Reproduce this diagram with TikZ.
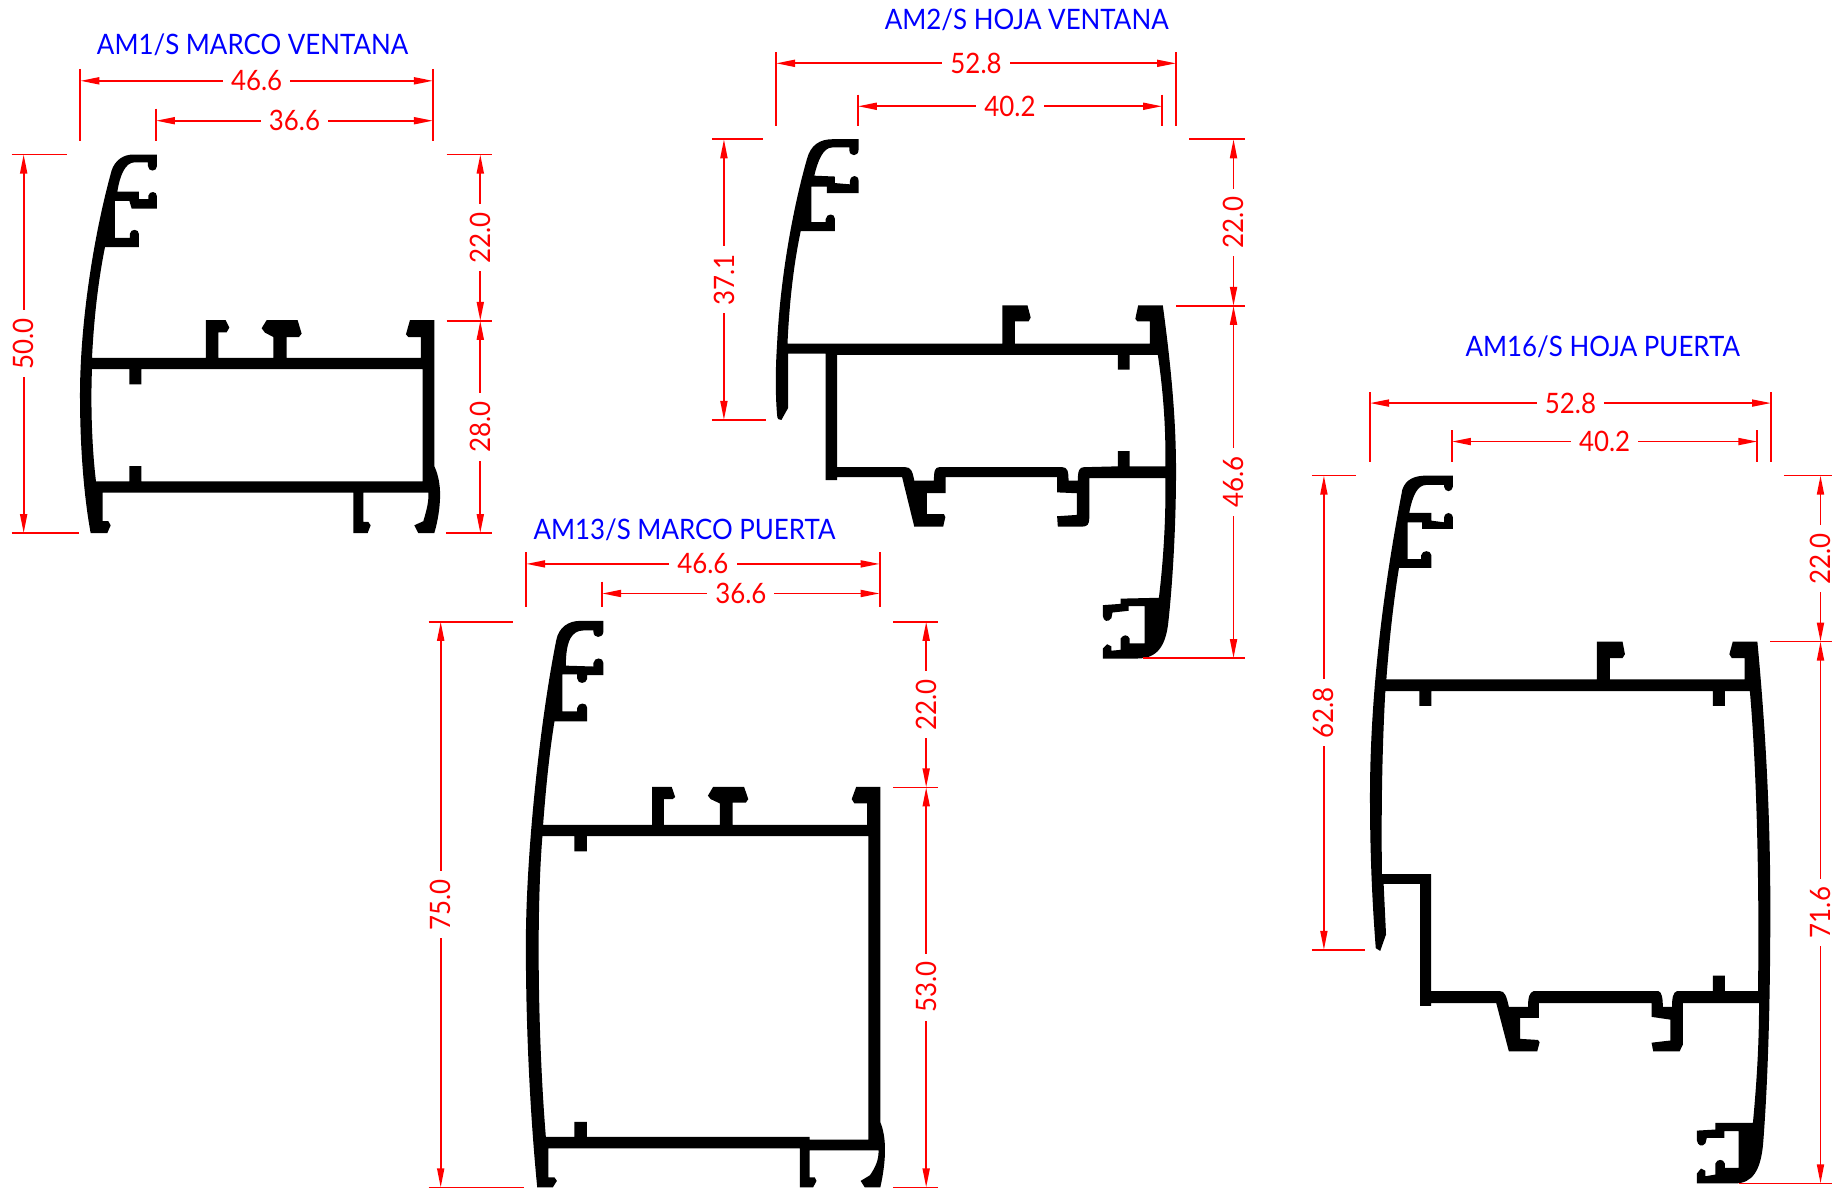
\documentclass[tikz,border=0pt]{standalone}
\usepackage{fontspec}
\setmainfont[FakeStretch=.92]{Lato}
\usetikzlibrary{arrows.meta}

\tikzset{
profile/.style={fill=black, even odd rule},
extline/.style={red, line width=.5pt},
dimline/.style={red, line width=.5pt, {Triangle[length=.19cm,width=.07cm]}-{Triangle[length=.19cm,width=.07cm]}},
dimh/.style={fill=white, text=red, inner xsep=.08cm, inner ysep=0pt, font=\fontsize{8}{9}\selectfont},
dimv/.style={dimh, rotate=90},
title/.style={text=blue, font=\fontsize{8}{9}\selectfont}
}

\begin{document}
\begin{tikzpicture}[x=.01cm, y=-.01cm]

\useasboundingbox (0,0) rectangle (1834,1192);

% AM1/S
\begin{scope}[shift={(0,20)}, xscale=.3333, yscale=.338]
\fill[profile] (471,398)--(471,432) .. controls (471,450) and (444,450) .. (444,432)--(444,421)--(405,421)
 .. controls (375,421) and (360,460) .. (352,508)--(417,508)--(417,530)--(445,530)--(445,520)
 .. controls (448,505) and (471,505) .. (471,522)--(471,558)--(395,558)--(388,535)--(345,535)--(345,645)--(390,645)--(390,632)
 .. controls (392,617) and (417,617) .. (417,634)--(417,672)--(315,672)
 .. controls (295,770) and (282,880) .. (276,1000)--(618,1000)--(618,888)--(677,888)--(688,910)--(680,924)--(655,924)--(655,1000)
 --(820,1000)--(820,938)--(795,925)--(785,912)--(800,888)--(893,888)--(905,928)--(897,938)--(860,938)--(860,1000)
 --(1263,1000)--(1263,938)--(1225,938)--(1218,930)--(1230,888)--(1303,888)--(1303,1320)
 .. controls (1318,1350) and (1322,1390) .. (1320,1420) .. controls (1318,1460) and (1310,1495) .. (1303,1518)
 --(1255,1518)--(1243,1495)--(1270,1483) .. controls (1280,1450) and (1287,1425) .. (1285,1398)
 --(1090,1398)--(1090,1485)--(1105,1485)--(1112,1495)--(1103,1518)--(1060,1518)--(1060,1398)--(308,1398)--(308,1483)--(325,1483)--(332,1495)--(322,1518)--(272,1518)
 .. controls (250,1400) and (240,1250) .. (240,1110) .. controls (240,900) and (280,640) .. (335,445)
 .. controls (345,415) and (370,398) .. (400,398)--cycle
 (276,1033)--(388,1033)--(388,1078)--(424,1078)--(424,1033)--(1268,1033)--(1268,1365)--(424,1365)--(424,1320)--(388,1320)--(388,1365)--(288,1365)
 .. controls (275,1260) and (272,1130) .. (276,1033)--cycle;
\node[title] (tone) at (758,72) {AM1/S MARCO VENTANA};
\draw[extline] (241,145)--(241,358);
\draw[extline] (1299,145)--(1299,358);
\draw[extline] (468,262)--(468,358);
\draw[extline] (35,398)--(200,398);
\draw[extline] (35,1518)--(236,1518);
\draw[extline] (1340,398)--(1477,398);
\draw[extline] (1340,890)--(1477,890);
\draw[extline] (1338,1518)--(1477,1518);
\draw[dimline] (241,180)-- node[dimh] (aonew) {46.6} (1299,180);
\draw[dimline] (468,298)-- node[dimh] (aonei) {36.6} (1299,298);
\draw[dimline] (71,398)-- node[dimv] (aoneh) {50.0} (71,1518);
\draw[dimline] (1441,398)-- node[dimv] (aonet) {22.0} (1441,890);
\draw[dimline] (1441,890)-- node[dimv] (aoneb) {28.0} (1441,1518);
\end{scope}

% AM2/S
\begin{scope}[shift={(700,0)}, xscale=.3571, yscale=.4338]
\fill[profile] (444,321)--(444,345) .. controls (444,362) and (418,362) .. (418,345)--(418,340)--(370,340)
 .. controls (345,340) and (330,370) .. (320,405)--(378,407)--(378,422)--(420,425)--(420,417)
 .. controls (422,402) and (444,402) .. (444,417)--(444,445)--(355,445)--(355,430)--(312,430)--(312,512)--(352,512)--(352,505)
 .. controls (354,491) and (378,491) .. (378,505)--(378,533)--(282,533)
 .. controls (262,610) and (250,700) .. (245,792)--(847,792)--(847,704)--(917,704)--(926,732)--(920,741)--(882,741)--(882,792)
 --(1260,792)--(1260,741)--(1225,741)--(1219,735)--(1227,704)--(1296,704)
 .. controls (1320,850) and (1333,970) .. (1333,1085) .. controls (1333,1200) and (1325,1330) .. (1312,1430)
 .. controls (1305,1490) and (1280,1518) .. (1225,1518)--(1128,1518)--(1128,1495)--(1140,1485)--(1152,1490)--(1152,1500)--(1178,1498)--(1178,1472)
 .. controls (1185,1462) and (1198,1462) .. (1203,1472)--(1203,1483)--(1245,1483)--(1245,1397)--(1200,1397)--(1200,1408)--(1155,1412)--(1152,1425)
 .. controls (1142,1436) and (1130,1432) .. (1128,1420)--(1128,1395)--(1178,1392)--(1178,1380)--(1285,1378)
 .. controls (1298,1290) and (1305,1190) .. (1303,1102)--(1090,1102)--(1090,1195) .. controls (1090,1208) and (1085,1214) .. (1070,1214)
 --(1002,1214)--(1000,1190)--(1055,1187)--(1055,1137)--(1000,1135)--(1000,1100)--(688,1100)--(688,1137)--(635,1137)--(635,1185)--(683,1185)--(687,1192)--(681,1214)--(600,1214)--(566,1100)--(384,1100)--(384,1107)--(352,1107)--(352,815)--(247,815)--(247,940)--(228,968)
 .. controls (222,970) and (216,965) .. (216,958) .. controls (210,900) and (212,840) .. (216,790)
 .. controls (225,640) and (260,480) .. (300,365) .. controls (310,335) and (335,321) .. (370,321)--cycle
 (384,818)--(1170,818)--(1170,852)--(1203,852)--(1203,818)--(1282,818) .. controls (1297,900) and (1305,990) .. (1303,1075)
 --(1203,1075)--(1203,1040)--(1170,1040)--(1170,1075)--(1075,1077) .. controls (1062,1077) and (1058,1085) .. (1058,1108)--(1032,1108)
 .. controls (1032,1085) and (1028,1077) .. (1015,1077)--(670,1077) .. controls (658,1077) and (655,1085) .. (655,1108)--(600,1108)
 .. controls (595,1085) and (590,1077) .. (575,1077)--(384,1077)--cycle;
\node[title] (ttwo) at (915,46) {AM2/S HOJA VENTANA};
\draw[extline] (213,120)--(213,290);
\draw[extline] (1333,120)--(1333,290);
\draw[extline] (442,218)--(442,290);
\draw[extline] (1294,218)--(1294,290);
\draw[extline] (33,321)--(175,321);
\draw[extline] (33,968)--(185,968);
\draw[extline] (1370,321)--(1527,321);
\draw[extline] (1333,705)--(1527,705);
\draw[extline] (1240,1517)--(1527,1517);
\draw[dimline] (213,146)-- node[dimh] (atwow) {52.8} (1333,146);
\draw[dimline] (442,245)-- node[dimh] (atwoi) {40.2} (1294,245);
\draw[dimline] (67,321)-- node[dimv] (atwoh) {37.1} (67,968);
\draw[dimline] (1494,321)-- node[dimv] (atwot) {22.0} (1494,705);
\draw[dimline] (1494,705)-- node[dimv] (atwob) {46.6} (1494,1517);
\end{scope}

% AM13/S
\begin{scope}[shift={(420,510)}, xscale=.3448, yscale=.4348]
\fill[profile] (532,255)--(532,280) .. controls (530,296) and (503,296) .. (503,280)--(503,277)--(475,277)
 .. controls (440,277) and (423,300) .. (423,358)--(503,360)--(503,352) .. controls (505,338) and (532,338) .. (532,352)--(532,380)
 --(485,380)--(485,388) .. controls (482,401) and (458,401) .. (456,388)--(456,378)--(413,378)--(413,463)--(456,463)--(456,455)
 .. controls (458,442) and (485,442) .. (485,455)--(485,486)--(390,486) .. controls (375,560) and (365,640) .. (357,724)
 --(673,724)--(673,637)--(730,637)--(740,660)--(733,665)--(707,665)--(707,724)--(870,724)--(870,675)--(843,665)--(835,657)--(850,637)--(940,637)--(952,665)--(945,673)--(907,673)--(907,724)
 --(1297,724)--(1297,675)--(1260,675)--(1252,665)--(1265,637)--(1335,637)--(1335,1408)
 .. controls (1352,1440) and (1354,1490) .. (1335,1558)--(1290,1558)--(1278,1543)--(1305,1530) .. controls (1322,1510) and (1330,1495) .. (1330,1473)
 --(1130,1473)--(1130,1535)--(1145,1535)--(1150,1543)--(1140,1558)--(1102,1558)--(1102,1468)--(372,1468)--(372,1535)--(390,1535)--(397,1543)--(385,1558)--(340,1558)
 .. controls (318,1380) and (307,1180) .. (307,1000) .. controls (307,800) and (345,500) .. (395,300)
 .. controls (402,270) and (430,255) .. (465,255)--cycle
 (355,750)--(448,750)--(448,785)--(484,785)--(484,750)--(1300,750)--(1300,1448)--(1130,1448)--(1130,1442)--(484,1442)--(484,1407)--(448,1407)--(448,1442)--(365,1442)
 .. controls (345,1250) and (335,950) .. (355,750)--cycle;
\node[title] (tthree) at (767,45) {AM13/S MARCO PUERTA};
\draw[extline] (308,97)--(308,224);
\draw[extline] (1333,97)--(1333,224);
\draw[extline] (528,165)--(528,224);
\draw[extline] (25,257)--(270,257);
\draw[extline] (25,1558)--(302,1558);
\draw[extline] (1372,257)--(1502,257);
\draw[extline] (1372,638)--(1502,638);
\draw[extline] (1372,1558)--(1502,1558);
\draw[dimline] (308,124)-- node[dimh] (athreew) {46.6} (1333,124);
\draw[dimline] (528,192)-- node[dimh] (athreei) {36.6} (1333,192);
\draw[dimline] (60,257)-- node[dimv] (athreeh) {75.0} (60,1558);
\draw[dimline] (1468,257)-- node[dimv] (athreet) {22.0} (1468,638);
\draw[dimline] (1468,638)-- node[dimv] (athreeb) {53.0} (1468,1558);
\end{scope}

% AM16/S
\begin{scope}[shift={(1300,330)}, xscale=.3413, yscale=.5495]
\fill[profile] (448,265)--(448,285) .. controls (446,296) and (424,296) .. (422,285)--(422,282)--(370,282)
 .. controls (345,282) and (330,300) .. (320,333)--(385,333)--(385,347)--(422,350)--(422,342) .. controls (424,330) and (446,330) .. (448,342)
 --(448,362)--(358,362)--(358,350)--(315,350)--(315,417)--(355,417)--(355,410) .. controls (358,400) and (383,400) .. (385,410)--(385,433)--(290,433)
 .. controls (275,490) and (262,560) .. (253,636)--(870,636)--(870,567)--(945,567)--(952,590)--(945,597)--(908,597)--(908,636)
 --(1303,636)--(1303,597)--(1265,597)--(1258,590)--(1268,567)--(1340,567)
 .. controls (1365,730) and (1378,890) .. (1378,1050) .. controls (1378,1210) and (1372,1360) .. (1357,1480)
 .. controls (1350,1530) and (1325,1553) .. (1275,1553)--(1163,1553)--(1163,1535)--(1175,1526)--(1188,1530)--(1188,1540)--(1217,1537)--(1217,1517)
 .. controls (1222,1508) and (1240,1508) .. (1245,1517)--(1245,1525)--(1285,1525)--(1285,1458)--(1243,1458)--(1243,1470)--(1192,1470)--(1188,1480)
 .. controls (1178,1488) and (1165,1484) .. (1163,1475)--(1163,1457)--(1217,1455)--(1217,1443)--(1327,1443)
 .. controls (1338,1370) and (1345,1300) .. (1345,1225)--(1122,1225)--(1122,1300)--(1112,1313)--(1035,1313)--(1030,1297)--(1085,1293)--(1085,1255)--(1030,1250)--(1030,1225)--(700,1225)--(700,1252)--(645,1252)--(645,1290)--(697,1292)--(702,1296)--(695,1313)--(612,1313)--(575,1225)--(384,1225)--(384,1230)--(352,1230)--(352,1008)--(245,1008)--(252,1100)--(235,1130)--(222,1125)
 .. controls (210,1030) and (205,940) .. (205,850) .. controls (205,650) and (250,450) .. (300,290)
 .. controls (310,272) and (335,265) .. (370,265)--cycle
 (250,657)--(350,657)--(350,684)--(385,684)--(385,657)--(1210,657)--(1210,684)--(1245,684)--(1245,657)--(1318,657)
 .. controls (1338,800) and (1346,1000) .. (1342,1203)--(1245,1203)--(1245,1175)--(1210,1175)--(1210,1203)--(1105,1203)
 .. controls (1093,1205) and (1090,1215) .. (1090,1232)--(1063,1232) .. controls (1063,1215) and (1060,1205) .. (1050,1203)
 --(685,1203) .. controls (672,1205) and (668,1215) .. (668,1232)--(612,1232) .. controls (605,1212) and (600,1203) .. (585,1203)
 --(384,1203)--(384,990)--(240,990) .. controls (238,880) and (240,770) .. (250,657)--cycle;
\node[title] (tfour) at (887,30) {AM16/S HOJA PUERTA};
\draw[extline] (205,113)--(205,240);
\draw[extline] (1380,113)--(1380,240);
\draw[extline] (445,182)--(445,240);
\draw[extline] (1340,182)--(1340,240);
\draw[extline] (35,265)--(165,265);
\draw[extline] (35,1128)--(190,1128);
\draw[extline] (1418,265)--(1558,265);
\draw[extline] (1378,567)--(1558,567);
\draw[extline] (1285,1553)--(1558,1553);
\draw[dimline] (205,133)-- node[dimh] (afourw) {52.8} (1380,133);
\draw[dimline] (445,203)-- node[dimh] (afouri) {40.2} (1340,203);
\draw[dimline] (70,265)-- node[dimv] (afourh) {62.8} (70,1128);
\draw[dimline] (1525,265)-- node[dimv] (afourt) {22.0} (1525,567);
\draw[dimline] (1525,567)-- node[dimv] (afourb) {71.6} (1525,1553);
\end{scope}

\end{tikzpicture}
\end{document}
